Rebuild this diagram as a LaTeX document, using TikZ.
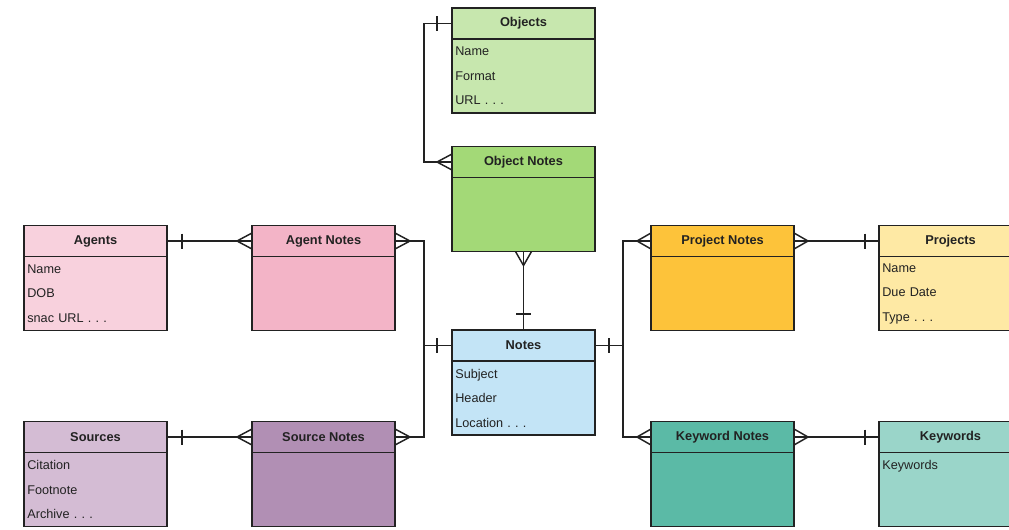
\documentclass[tikz,border=0pt]{standalone}
\usepackage{fontspec}
\setmainfont{Liberation Sans}
\usepackage{tikz}
\usetikzlibrary{positioning,calc}
\definecolor{objc}{HTML}{C7E7AE}
\definecolor{objnc}{HTML}{A3D977}
\definecolor{agc}{HTML}{F8D1DD}
\definecolor{agnc}{HTML}{F3B4C7}
\definecolor{notec}{HTML}{C3E4F6}
\definecolor{prnc}{HTML}{FDC33A}
\definecolor{prc}{HTML}{FEE9A4}
\definecolor{soc}{HTML}{D4BCD4}
\definecolor{sonc}{HTML}{B18FB4}
\definecolor{kwnc}{HTML}{5BBAA6}
\definecolor{kwc}{HTML}{9AD5C9}
\definecolor{ink}{HTML}{222222}
\frenchspacing
\newcommand{\onebar}[2]{\draw ($(#1)+(#2,-7.5)$) -- ++(0,15);}
\newcommand{\crowfoot}[2]{\draw ($(#1)+(0,-8)$) -- ($(#1)+(#2,0)$) -- ($(#1)+(0,8)$);}
\newcommand{\onebarv}[2]{\draw ($(#1)+(-7.5,#2)$) -- ++(15,0);}
\newcommand{\crowfootv}[2]{\draw ($(#1)+(-8,0)$) -- ($(#1)+(0,#2)$) -- ($(#1)+(8,0)$);}
\begin{document}
\begin{tikzpicture}[x=0.75pt,y=-0.75pt,line width=1.1pt,draw=ink,text=ink,
  ehead/.style={draw=ink,outer sep=0pt,inner sep=1pt,minimum width=107.25pt,minimum height=23.25pt,font=\fontsize{9.6}{11}\selectfont\bfseries},
  ebody/.style={draw=ink,outer sep=0pt,inner xsep=2.5pt,inner ysep=0pt,minimum width=107.25pt,minimum height=55.5pt,text width=102.25pt,align=left,font=\fontsize{9.5}{18.4}\selectfont,below=0pt of #1}]
    \path[use as bounding box,clip] (0,0) rectangle (1009,529);
    % entities
    \node[ehead,fill=objc] (objects) at (523.5,23.5) {Objects};
    \node[ebody=objects,fill=objc] (objectsb) {Name\\Format\\URL . . .};
    \node[ehead,fill=objnc] (objectn) at (523.5,162) {Object Notes};
    \node[ebody=objectn,fill=objnc] (objectnb) {};
    \node[ehead,fill=agc] (agents) at (95.5,241) {Agents};
    \node[ebody=agents,fill=agc] (agentsb) {Name\\DOB\\snac URL . . .};
    \node[ehead,fill=agnc] (agentn) at (323.5,241) {Agent Notes};
    \node[ebody=agentn,fill=agnc] (agentnb) {};
    \node[ehead,fill=notec] (notes) at (523.5,345.5) {Notes};
    \node[ebody=notes,fill=notec] (notesb) {Subject\\Header\\Location . . .};
    \node[ehead,fill=prnc] (projectn) at (722.5,241) {Project Notes};
    \node[ebody=projectn,fill=prnc] (projectnb) {};
    \node[ehead,fill=prc] (projects) at (950.5,241) {Projects};
    \node[ebody=projects,fill=prc] (projectsb) {Name\\Due Date\\Type . . .};
    \node[ehead,fill=soc] (sources) at (95.5,437) {Sources};
    \node[ebody=sources,fill=soc] (sourcesb) {Citation\\Footnote\\Archive . . .};
    \node[ehead,fill=sonc] (sourcen) at (323.5,437) {Source Notes};
    \node[ebody=sourcen,fill=sonc] (sourcenb) {};
    \node[ehead,fill=kwnc] (keywordn) at (722.5,437) {Keyword Notes};
    \node[ebody=keywordn,fill=kwnc] (keywordnb) {};
    \node[ehead,fill=kwc] (keywords) at (950.5,437) {Keywords};
    \node[ebody=keywords,fill=kwc] (keywordsb) {Keywords\\~\\~};
    % relations
    \draw (objects.west) -- ++(-28,0) |- (objectn.west);
    \onebar{objects.west}{-15} \crowfoot{objectn.west}{-15}
    \draw (objectnb.south) -- (notes.north);
    \crowfootv{objectnb.south}{14} \onebarv{notes.north}{-16}
    \draw (agents.east) -- (agentn.west);
    \onebar{agents.east}{15} \crowfoot{agentn.west}{-15}
    \draw (sources.east) -- (sourcen.west);
    \onebar{sources.east}{15} \crowfoot{sourcen.west}{-15}
    \draw (agentn.east) -- ++(29,0) |- (sourcen.east);
    \draw (notes.west) -- ++(-28,0);
    \crowfoot{agentn.east}{15} \crowfoot{sourcen.east}{15} \onebar{notes.west}{-15}
    \draw (projectn.west) -- ++(-28,0) |- (keywordn.west);
    \draw (notes.east) -- ++(28,0);
    \onebar{notes.east}{14} \crowfoot{projectn.west}{-14} \crowfoot{keywordn.west}{-14}
    \draw (projectn.east) -- (projects.west);
    \crowfoot{projectn.east}{14} \onebar{projects.west}{-14}
    \draw (keywordn.east) -- (keywords.west);
    \crowfoot{keywordn.east}{14} \onebar{keywords.west}{-14}
\end{tikzpicture}
\end{document}
